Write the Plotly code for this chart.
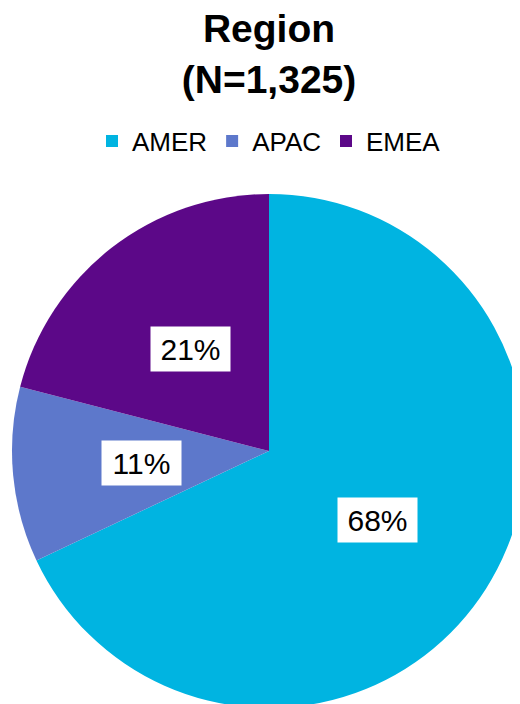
import math
import plotly.graph_objects as go

# data
regions = ["AMER", "APAC", "EMEA"]
counts = [901, 146, 278]
colors = ["#00B4E1", "#5D78CB", "#5C0888"]
title_text = "<b>Region<br>(N=1,325)</b>"

# figure geometry (pixels)
W, H = 540, 720
cx, cy, r = 261, 443, 257

dom_x = [(cx - r) / W, (cx + r) / W]
dom_y = [(H - (cy + r)) / H, (H - (cy - r)) / H]

fig = go.Figure()

fig.add_trace(
    go.Pie(
        labels=regions,
        values=counts,
        sort=False,
        direction="clockwise",
        rotation=0,
        marker=dict(colors=colors, line=dict(width=0)),
        textinfo="none",
        hoverinfo="label+percent+value",
        domain=dict(x=dom_x, y=dom_y),
    )
)

# percentage labels in white boxes, placed halfway out along each slice's mid angle
total = sum(counts)
start = 0.0
annotations = []
for name, c in zip(regions, counts):
    frac = c / total
    mid = (start + frac / 2) * 2 * math.pi
    start += frac
    px = cx + 0.5 * r * math.sin(mid)
    py = cy - 0.5 * r * math.cos(mid)
    annotations.append(
        dict(
            x=px / W,
            y=1 - py / H,
            xref="paper",
            yref="paper",
            text=f"{round(frac * 100)}%",
            showarrow=False,
            font=dict(size=30, color="black", family="Arial, Liberation Sans"),
            bgcolor="white",
            width=79,
            height=44,
            borderpad=0,
            xanchor="center",
            yanchor="middle",
        )
    )

fig.update_layout(
    width=W,
    height=H,
    margin=dict(t=0, b=0, l=0, r=0),
    paper_bgcolor="white",
    plot_bgcolor="white",
    font=dict(family="Arial, Liberation Sans", color="black"),
    title=dict(
        text=title_text,
        x=cx / W,
        xanchor="center",
        y=1 - 34 / H,
        yanchor="top",
        yref="container",
        font=dict(size=39, color="black"),
    ),
    showlegend=True,
    legend=dict(
        orientation="h",
        x=cx / W,
        xanchor="center",
        y=1 - 133 / H,
        yanchor="middle",
        font=dict(size=26, color="black"),
        itemwidth=30,
        traceorder="normal",
    ),
    annotations=annotations,
)

fig.write_html("out.html")
